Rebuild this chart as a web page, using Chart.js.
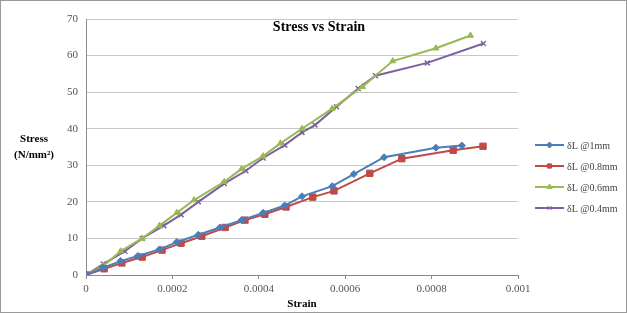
<!DOCTYPE html>
<html>
<head>
<meta charset="utf-8">
<script src="https://cdn.jsdelivr.net/npm/chart.js@4.4.1/dist/chart.umd.min.js"></script>
<style>
    html, body { margin: 0; padding: 0; background: #fff; }
    #wrap { position: relative; width: 627px; height: 313px; }
</style>
</head>
<body>
<div id="wrap"><canvas id="stressChart"></canvas></div>
<script>
// Данные
const seriesNames = ['δL @1mm', 'δL @0.8mm', 'δL @0.6mm', 'δL @0.4mm'];

const strain1mm = [0, 0.00004, 0.00008, 0.00012, 0.00017, 0.00021, 0.00026, 0.00031, 0.00036, 0.00041, 0.00046, 0.0005, 0.00057, 0.00062, 0.00069, 0.00081, 0.00087];
const stress1mm = [0, 2, 3.8, 5.2, 7, 9, 11, 13, 15, 17, 19, 21.5, 24.3, 27.6, 32.2, 34.8, 35.4];

const strain08mm = [0, 0.000042, 0.000083, 0.00013, 0.000176, 0.00022, 0.000268, 0.000322, 0.000368, 0.000414, 0.000463, 0.000525, 0.000574, 0.000657, 0.000731, 0.00085, 0.000919];
const stress08mm = [0, 1.7, 3.3, 4.9, 6.8, 8.7, 10.6, 13, 15, 16.6, 18.6, 21.3, 23, 27.8, 31.8, 34.1, 35.2];

const strain06mm = [0, 0.00004, 0.00008, 0.00013, 0.00017, 0.00021, 0.00025, 0.00032, 0.00036, 0.00041, 0.00045, 0.0005, 0.00057, 0.00064, 0.00071, 0.00081, 0.00089];
const stress06mm = [0, 2.5, 6.5, 10, 13.5, 17, 20.5, 25.5, 29, 32.5, 36, 40, 45.5, 51.5, 58.5, 62, 65.5];

const strain04mm = [0, 0.00004, 0.00009, 0.00013, 0.00018, 0.00022, 0.00026, 0.00032, 0.00037, 0.00041, 0.00046, 0.0005, 0.00053, 0.00058, 0.00063, 0.00067, 0.00079, 0.00092];
const stress04mm = [0, 3, 6.5, 10, 13.5, 16.5, 20, 25, 28.5, 32, 35.5, 39, 41, 46, 51, 54.5, 58, 63.3];

const xTicks = [0, 0.0002, 0.0004, 0.0006, 0.0008, 0.001];
const yTicks = [0, 10, 20, 30, 40, 50, 60, 70];

function toPoints(xs, ys) {
    return xs.map((x, i) => ({ x: x, y: ys[i] }));
}

const serif = '"Liberation Serif", "DejaVu Serif", serif';

// Фон, рамка, заголовки и легенда рисуются плагином
const decorPlugin = {
    id: 'decor',
    beforeDraw(chart) {
        const ctx = chart.ctx;
        ctx.save();
        ctx.fillStyle = '#fff';
        ctx.fillRect(0, 0, chart.width, chart.height);
        ctx.strokeStyle = '#9a9a9a';
        ctx.lineWidth = 1;
        ctx.strokeRect(0.5, 0.5, chart.width - 1, chart.height - 1);
        ctx.restore();
    },
    afterDraw(chart) {
        const ctx = chart.ctx;
        ctx.save();
        ctx.fillStyle = '#000';
        ctx.textAlign = 'center';
        ctx.textBaseline = 'middle';
        ctx.font = 'bold 14px ' + serif;
        ctx.fillText('Stress vs Strain', 319, 27);

        ctx.font = 'bold 11px ' + serif;
        ctx.fillText('Stress', 34, 139);
        ctx.fillText('(N/mm²)', 34, 155);
        ctx.fillText('Strain', 302, 304);

        // легенда
        chart.data.datasets.forEach((ds, i) => {
            const y = 145 + i * 21;
            ctx.strokeStyle = ds.borderColor;
            ctx.lineWidth = 2;
            ctx.beginPath();
            ctx.moveTo(535, y);
            ctx.lineTo(564, y);
            ctx.stroke();
            ctx.fillStyle = ds.borderColor;
            ctx.lineWidth = 1;
            Chart.helpers.drawPoint(ctx, {
                pointStyle: ds.pointStyle,
                radius: 3,
                borderWidth: 1
            }, 549.5, y);
            ctx.fillStyle = '#444';
            ctx.textAlign = 'left';
            ctx.font = '10px ' + serif;
            ctx.fillText(ds.label, 567, y + 1);
        });
        ctx.restore();
    }
};

function makeSet(label, pts, color, style, radius) {
    return {
        label: label,
        data: pts,
        borderColor: color,
        backgroundColor: color,
        pointBackgroundColor: color,
        pointBorderColor: color,
        pointStyle: style,
        pointRadius: radius,
        pointBorderWidth: style === 'crossRot' ? 1.5 : 1,
        borderWidth: 2,
        showLine: true,
        tension: 0
    };
}

const ctx = document.getElementById('stressChart').getContext('2d');
new Chart(ctx, {
    type: 'scatter',
    data: {
        datasets: [
            makeSet(seriesNames[0], toPoints(strain1mm, stress1mm), '#4a7ebb', 'rectRot', 3.5),
            makeSet(seriesNames[1], toPoints(strain08mm, stress08mm), '#be4b48', 'rect', 4.5),
            makeSet(seriesNames[2], toPoints(strain06mm, stress06mm), '#98b954', 'triangle', 3.5),
            makeSet(seriesNames[3], toPoints(strain04mm, stress04mm), '#7d60a0', 'crossRot', 3.5)
        ]
    },
    options: {
        responsive: true,
        maintainAspectRatio: false,
        animation: false,
        events: [],
        layout: {
            padding: { left: 0, right: 109, top: 19, bottom: 0 }
        },
        plugins: {
            legend: { display: false },
            tooltip: { enabled: false },
            title: { display: false }
        },
        scales: {
            x: {
                type: 'linear',
                min: 0,
                max: 0.001,
                afterBuildTicks: axis => { axis.ticks = xTicks.map(v => ({ value: v })); },
                afterFit: axis => { axis.height = 38; },
                ticks: {
                    color: '#555',
                    font: { family: serif, size: 11 },
                    padding: 4,
                    maxRotation: 0,
                    callback: v => String(+v.toFixed(4))
                },
                grid: {
                    display: true,
                    drawOnChartArea: false,
                    drawTicks: true,
                    tickLength: 4,
                    color: '#8a8a8a'
                },
                border: { color: '#8a8a8a', width: 1 }
            },
            y: {
                type: 'linear',
                min: 0,
                max: 70,
                afterBuildTicks: axis => { axis.ticks = yTicks.map(v => ({ value: v })); },
                afterFit: axis => { axis.width = 86; },
                ticks: {
                    color: '#555',
                    font: { family: serif, size: 11 },
                    padding: 8
                },
                grid: {
                    color: '#c8c8c8',
                    drawTicks: false
                },
                border: { color: '#8a8a8a', width: 1 }
            }
        }
    },
    plugins: [decorPlugin]
});
</script>
</body>
</html>
